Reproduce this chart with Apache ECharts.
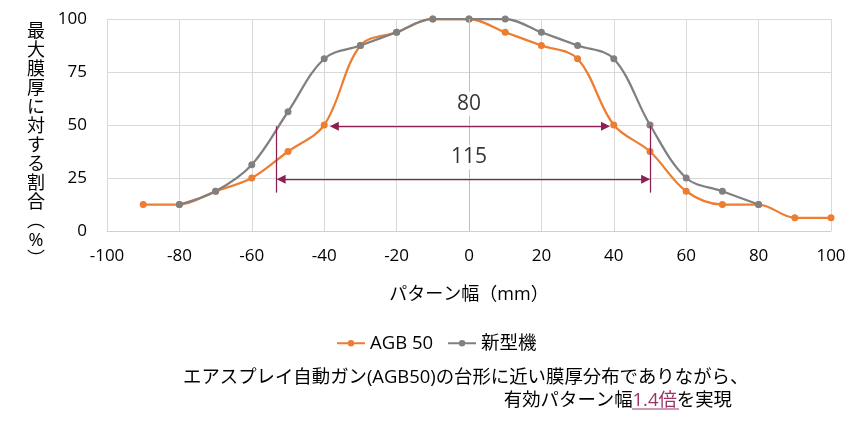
<!DOCTYPE html>
<html>
<head>
<meta charset="utf-8">
<script src="https://cdn.jsdelivr.net/npm/echarts@6/dist/echarts.min.js"></script>
<style>
html,body{margin:0;padding:0;background:#fff;}
#main{width:861px;height:426px;}
</style>
</head>
<body>
<div id="main"></div>
<script>
// ---- data ----
const agbX = [-90,-80,-70,-60,-50,-40,-30,-20,-10,0,10,20,30,40,50,60,70,80,90,100];
const agbY = [12.5,12.5,18.75,25,37.5,50,87.5,93.75,100,100,93.75,87.5,81.25,50,37.5,18.75,12.5,12.5,6.25,6.25];
const newX = [-80,-70,-60,-50,-40,-30,-20,-10,0,10,20,30,40,50,60,70,80];
const newY = [12.5,18.75,31.25,56.25,81.25,87.5,93.75,100,100,100,93.75,87.5,81.25,50,25,18.75,12.5];
const seriesNames = ['AGB 50', '新型機'];
const xTicks = {min: -100, max: 100, interval: 20};
const yTicks = {min: 0, max: 100, interval: 25};
// annotation values (data space)
const arrow80 = {x1: -37.2, x2: 37.7, y: 49.4, text: '80', labelY: 60};
const arrow115 = {x1: -51.9, x2: 48.8, y: 24.4, text: '115', labelY: 34.8};
const guideLines = [{x: -53.3, y1: 18.1, y2: 49.4}, {x: 50.1, y1: 18.1, y2: 49.7}];
const yName = ['最','大','膜','厚','に','対','す','る','割','合','︵','%','︶'];
const xName = 'パターン幅（mm）';
const note1 = 'エアスプレイ自動ガン(AGB50)の台形に近い膜厚分布でありながら、';
const note2a = '有効パターン幅', note2b = '1.4倍', note2c = 'を実現';

const FONT = "'Open Sans', 'Noto Sans CJK JP', sans-serif";
const ANN = '#8E1F52';

const chart = echarts.init(document.getElementById('main'));
const zip = (xs, ys) => xs.map((x, i) => [x, ys[i]]);

chart.setOption({
  animation: false,
  textStyle: {fontFamily: FONT},
  grid: {left: 107, right: 30, top: 19, bottom: 195, containLabel: false},
  xAxis: {
    type: 'value', min: xTicks.min, max: xTicks.max, interval: xTicks.interval,
    name: xName, nameLocation: 'middle', nameGap: 55,
    nameTextStyle: {fontSize: 18, color: '#000', fontFamily: FONT},
    axisLine: {show: true, lineStyle: {color: '#D0D0D0', width: 1}},
    axisTick: {show: false},
    axisLabel: {fontSize: 17, color: '#000', margin: 17, fontFamily: FONT},
    splitLine: {show: true, lineStyle: {color: '#D9D9D9', width: 1}}
  },
  yAxis: {
    type: 'value', min: yTicks.min, max: yTicks.max, interval: yTicks.interval,
    axisLine: {show: false}, axisTick: {show: false},
    axisLabel: {fontSize: 17, color: '#000', margin: 20, fontFamily: FONT},
    splitLine: {show: true, lineStyle: {color: '#D9D9D9', width: 1}}
  },
  legend: {
    left: 331, top: 329,
    itemWidth: 28, itemHeight: 8, itemGap: 14,
    textStyle: {fontSize: 18.5, color: '#000', fontFamily: FONT},
    data: seriesNames
  },
  graphic: [
    {type: 'text', x: 36, y: 22, style: {text: yName.join('\n'), fontSize: 18, lineHeight: 19, fontFamily: FONT, fill: '#000', align: 'center', verticalAlign: 'top'}},
    {type: 'text', x: 183, y: 378, style: {text: note1, fontSize: 18.4, fontFamily: FONT, fill: '#000', align: 'left', verticalAlign: 'middle'}},
    {type: 'text', x: 732, y: 401, style: {
      text: '{a|' + note2a + '}{b|' + note2b + '}{a|' + note2c + '}',
      fontSize: 18, fontFamily: FONT, align: 'right', verticalAlign: 'middle',
      rich: {a: {fontSize: 18.4, fontFamily: FONT, fill: '#000', color: '#000'}, b: {fontSize: 18.4, fontFamily: FONT, color: '#993366', fill: '#993366'}}
    }},
    {type: 'line', shape: {x1: 632, y1: 409, x2: 679, y2: 409}, style: {stroke: '#993366', lineWidth: 1}}
  ],
  series: [
    {
      type: 'line', name: '_zero', data: [], z: 1, silent: true,
      markLine: {
        silent: true, symbol: ['none', 'none'], label: {show: false},
        lineStyle: {color: '#BFBFBF', type: 'solid', width: 1},
        data: [[{coord: [0, 0]}, {coord: [0, 100]}]]
      }
    },
    {
      name: seriesNames[0], type: 'line', data: zip(agbX, agbY), smooth: 0.35,
      symbol: 'circle', symbolSize: 7, z: 3,
      itemStyle: {color: '#ED7D31'}, lineStyle: {color: '#ED7D31', width: 2.25}
    },
    {
      name: seriesNames[1], type: 'line', data: zip(newX, newY), smooth: 0.35,
      symbol: 'circle', symbolSize: 7, z: 4,
      itemStyle: {color: '#808080'}, lineStyle: {color: '#808080', width: 2.25}
    },
    {
      type: 'scatter', name: '_ann', z: 5, silent: true, symbolSize: 0,
      data: [[0, arrow80.labelY, arrow80.text], [0, arrow115.labelY, arrow115.text]],
      label: {show: true, position: 'inside', formatter: p => p.value[2], fontSize: 21, color: '#000', fontFamily: FONT, backgroundColor: '#fff', padding: [2, 4]},
      markLine: {
        silent: true, label: {show: false}, animation: false,
        lineStyle: {color: ANN, type: 'solid', width: 1.25},
        data: [
          [{coord: [arrow80.x1, arrow80.y], symbol: 'triangle', symbolSize: [9, 9]}, {coord: [arrow80.x2, arrow80.y], symbol: 'triangle', symbolSize: [9, 9]}],
          [{coord: [arrow115.x1, arrow115.y], symbol: 'triangle', symbolSize: [9, 9]}, {coord: [arrow115.x2, arrow115.y], symbol: 'triangle', symbolSize: [9, 9]}],
          [{coord: [guideLines[0].x, guideLines[0].y1], symbol: 'none'}, {coord: [guideLines[0].x, guideLines[0].y2], symbol: 'none'}],
          [{coord: [guideLines[1].x, guideLines[1].y1], symbol: 'none'}, {coord: [guideLines[1].x, guideLines[1].y2], symbol: 'none'}]
        ]
      }
    }
  ]
});
</script>
</body>
</html>
